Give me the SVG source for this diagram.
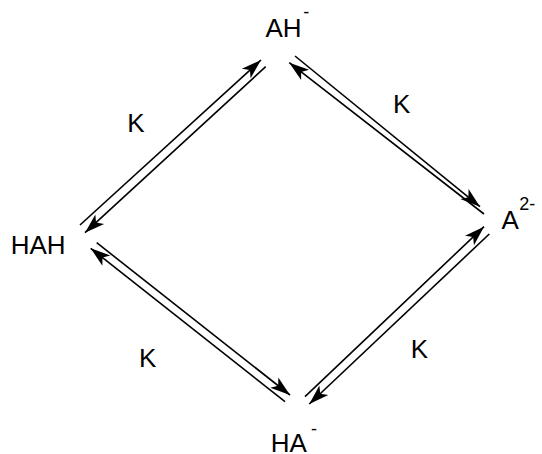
<svg xmlns="http://www.w3.org/2000/svg" width="542" height="454" viewBox="0 0 542 454">
  <defs>
    <style>
      .lbl { font-family: "Liberation Sans", Arial, sans-serif; font-size: 26px; fill: #000; }
      .sup { font-family: "Liberation Sans", Arial, sans-serif; font-size: 18px; fill: #000; }
      .conn { stroke: #000; stroke-width: 1.6; fill: none; marker-end: url(#head); }
    </style>
    <marker id="head" markerUnits="userSpaceOnUse" viewBox="-21 -8 22 16" refX="0" refY="0" markerWidth="22" markerHeight="16" orient="auto">
      <path d="M0,0 L-20,-6.5 L-15,0 L-20,6.5 Z" fill="#000"/>
    </marker>
  </defs>
  <rect width="542" height="454" fill="#fff"/>
  <g id="connectors">
    <path class="conn" d="M80,225 L261,60"/>
    <path class="conn" d="M265.7,66.7 L85,232.7"/>
    <path class="conn" d="M295,56 L480,206.7"/>
    <path class="conn" d="M484,214 L289.3,62.7"/>
    <path class="conn" d="M96.7,242.7 L290,395"/>
    <path class="conn" d="M285,401.7 L90.7,248.3"/>
    <path class="conn" d="M305,396.7 L484,226.7"/>
    <path class="conn" d="M489.3,234 L309.3,404"/>
  </g>
  <g id="node-AH">
    <text class="lbl" x="265.5" y="37.3">AH</text>
    <text class="sup" x="303.2" y="17.5">-</text>
  </g>
  <g id="node-HAH">
    <text class="lbl" x="10.7" y="254">HAH</text>
  </g>
  <g id="node-A2">
    <text class="lbl" x="501.5" y="229.3">A</text>
    <text class="sup" x="519.3" y="210">2-</text>
  </g>
  <g id="node-HA">
    <text class="lbl" x="270.7" y="452">HA</text>
    <text class="sup" x="311" y="435">-</text>
  </g>
  <g id="labels">
    <text class="lbl" x="127.3" y="131.7">K</text>
    <text class="lbl" x="393" y="112.7">K</text>
    <text class="lbl" x="139" y="366.7">K</text>
    <text class="lbl" x="410.7" y="357.7">K</text>
  </g>
</svg>
